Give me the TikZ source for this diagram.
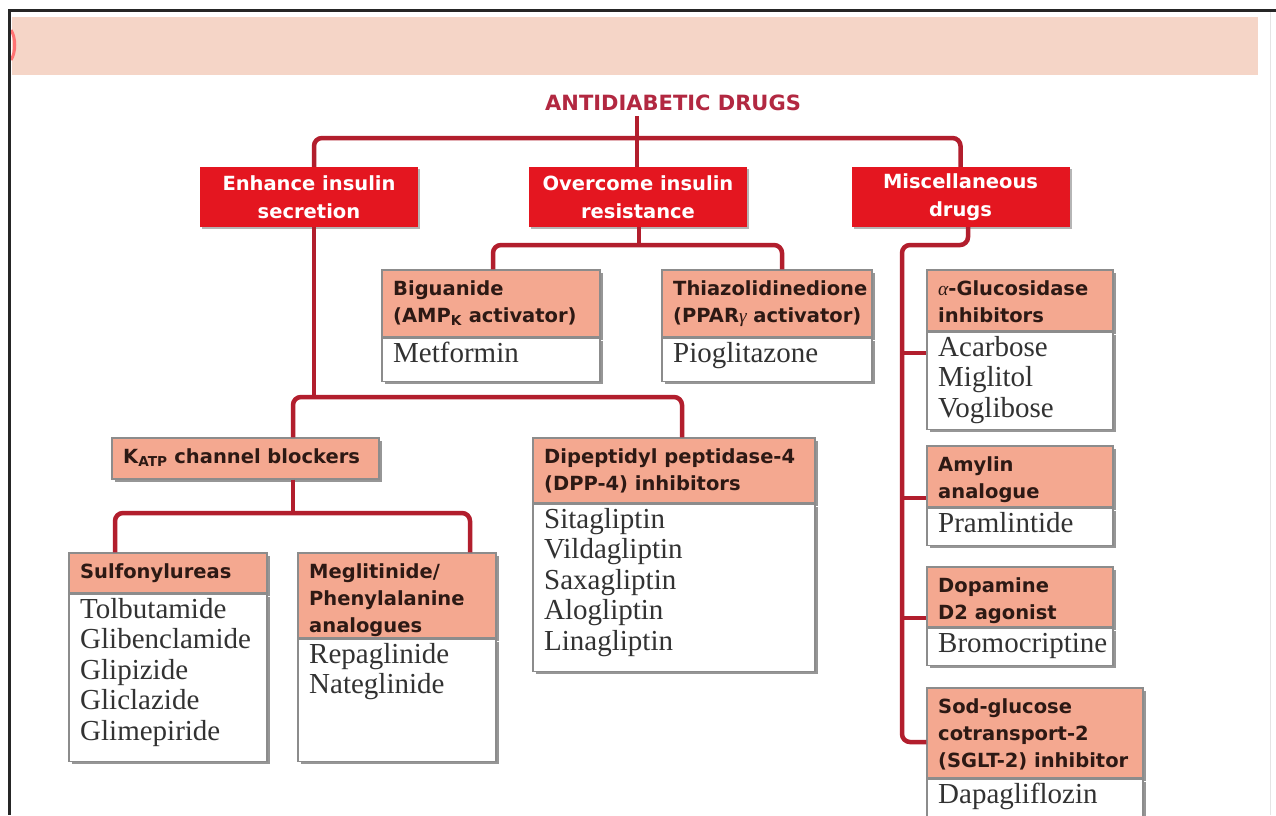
\documentclass[tikz,border=0pt]{standalone}
\usepackage{fontspec}
\setmainfont{Liberation Serif}
\newfontfamily\hdrf{DejaVu Sans}
\usetikzlibrary{calc,shadows}
\definecolor{bandc}{RGB}{245,213,199}
\definecolor{salmon}{RGB}{244,168,144}
\definecolor{redfill}{RGB}{228,22,32}
\definecolor{connred}{RGB}{178,30,45}
\definecolor{titlered}{RGB}{178,40,65}
\definecolor{edgegray}{RGB}{140,140,140}
\definecolor{shadowgray}{RGB}{150,150,150}
\definecolor{hdrtextc}{RGB}{45,25,20}
\definecolor{bodytextc}{RGB}{50,50,50}
\tikzset{
  boxshadow/.style={drop shadow={shadow xshift=3pt, shadow yshift=-3pt, fill=shadowgray, opacity=1}},
  hdrbox/.style={draw=edgegray, line width=1.2pt, fill=salmon, inner sep=0pt, boxshadow},
  bodybox/.style={draw=edgegray, line width=1.2pt, fill=white, inner sep=0pt, boxshadow},
  hdrtext/.style={font=\hdrf\bfseries\fontsize{19.5}{27}\selectfont, text=hdrtextc, align=left, inner sep=0pt, anchor=north west},
  bodytext/.style={font=\fontsize{29}{30.5}\selectfont, text=bodytextc, align=left, inner sep=0pt, anchor=north west},
  redbox/.style={fill=redfill, inner sep=0pt, minimum width=218pt, minimum height=60pt, text=white, align=center,
    font=\hdrf\bfseries\fontsize{19.5}{28}\selectfont,
    drop shadow={shadow xshift=2pt, shadow yshift=-2pt, fill=shadowgray, opacity=0.7}},
  link/.style={draw=connred, line width=4.5pt, rounded corners=8pt},
}
% #1 name, #2 x, #3 y(top), #4 width, #5 header height, #6 body height, #7 header, #8 body
\newcommand\drugbox[8]{%
  \node[hdrbox, minimum width=#4pt, minimum height=#5pt] (#1) at (#2+#4/2,#3+#5/2) {};
  \node[bodybox, minimum width=#4pt, minimum height=#6pt, anchor=north] (#1b) at (#1.south) {};
  \node[hdrtext] (#1ht) at (#2+11,#3+10) {\rule{0pt}{15.5pt}#7};
  \node[bodytext] (#1bt) at (#2+11,#3+#5+5) {\rule{0pt}{20pt}#8};
}
\begin{document}
\begin{tikzpicture}[x=1pt,y=-1pt]
\useasboundingbox (0,0) rectangle (1276,815);
\clip (0,0) rectangle (1276,815);
\fill[white] (0,0) rectangle (1276,815);
% header band and frame
\fill[bandc] (12,17) rectangle (1258,75);
\draw[red!55, line width=3pt] (11,30) .. controls (16,38) and (16,52) .. (11,60);
\draw[black!85, line width=3pt] (8,10) -- (1276,10);
\draw[black!85, line width=3pt] (9,10) -- (9,815);
\draw[black!10, line width=1pt] (1270,12) -- (1270,815);

% title
\node[font=\hdrf\bfseries\fontsize{21}{25}\selectfont, text=titlered, inner sep=0pt, anchor=base west] (title) at (545,110) {ANTIDIABETIC DRUGS};

% red category boxes
\node[redbox] (enh) at (309,197) {Enhance insulin\\secretion};
\node[redbox] (ovc) at (638,197) {Overcome insulin\\resistance};
\node[redbox] (misc) at (960.5,197) {Miscellaneous\\drugs};

% drug boxes
\drugbox{big}{382}{270}{218}{67}{43}{Biguanide\\(AMP\textsubscript{K} activator)}{Metformin}
\drugbox{thz}{662}{270}{210}{67}{43}{Thiazolidinedione\\(PPAR{\rmfamily\mdseries\itshape γ} activator)}{Pioglitazone}
\drugbox{dpp}{533}{438}{282}{65}{167}{Dipeptidyl peptidase-4\\(DPP-4) inhibitors}{Sitagliptin\\Vildagliptin\\Saxagliptin\\Alogliptin\\Linagliptin}
\drugbox{sulf}{69}{553}{198}{40}{167}{Sulfonylureas}{Tolbutamide\\Glibenclamide\\Glipizide\\Gliclazide\\Glimepiride}
\drugbox{meg}{298}{553}{198}{85}{122}{Meglitinide/\\Phenylalanine\\analogues}{Repaglinide\\Nateglinide}
\drugbox{alpha}{927}{270}{186}{61}{97}{{\rmfamily\mdseries\itshape α}-Glucosidase\\inhibitors}{Acarbose\\Miglitol\\Voglibose}
\drugbox{amy}{927}{446}{186}{61}{37}{Amylin\\analogue}{Pramlintide}
\drugbox{dop}{927}{567}{186}{60}{37}{Dopamine\\D2 agonist}{Bromocriptine}
\drugbox{sglt}{927}{688}{216}{90}{60}{Sod-glucose\\cotransport-2\\(SGLT-2) inhibitor}{Dapagliflozin}

% K-ATP box
\node[hdrbox, minimum width=267pt, minimum height=41pt] (katp) at (245.5,458.5) {};
\node[hdrtext] (katpt) at (123,448) {\rule{0pt}{15.5pt}K\textsubscript{ATP} channel blockers};

% junction coordinates
\coordinate (tStem) at (637,116);
\coordinate (jTop) at (637,138);
\coordinate (xEnh) at (314,0);
\coordinate (jOvc) at (639,245);
\coordinate (xBig) at (493,0);
\coordinate (xThz) at (782,0);
\coordinate (jEnh) at (314,397);
\coordinate (xKatp) at (293,0);
\coordinate (xDpp) at (682,0);
\coordinate (jKatp) at (293,513);
\coordinate (xSulf) at (115,0);
\coordinate (xMeg) at (470,0);
\coordinate (xMiscD) at (968,0);
\coordinate (jMisc) at (902,245);
\coordinate (ySglt) at (0,742);
\coordinate (yA) at (0,353);
\coordinate (yAm) at (0,498);
\coordinate (yDo) at (0,618);

% connectors
\draw[link] (tStem) -- (ovc.north -| tStem);
\draw[link] (enh.north -| xEnh) |- (jTop) -| (misc.north);
\draw[link] (ovc.south -| jOvc) -- (jOvc);
\draw[link] (big.north -| xBig) |- (jOvc) -| (thz.north -| xThz);
\draw[link] (enh.south -| xEnh) -- (jEnh);
\draw[link] (katp.north -| xKatp) |- (jEnh) -| (dpp.north -| xDpp);
\draw[link] (katp.south -| xKatp) -- (jKatp);
\draw[link] (sulf.north -| xSulf) |- (jKatp) -| (meg.north -| xMeg);
\draw[link] (misc.south -| xMiscD) |- (jMisc) |- (sglt.west |- ySglt);
\draw[link] (jMisc |- yA) -- (alphab.west |- yA);
\draw[link] (jMisc |- yAm) -- (amy.west |- yAm);
\draw[link] (jMisc |- yDo) -- (dop.west |- yDo);
\end{tikzpicture}
\end{document}
